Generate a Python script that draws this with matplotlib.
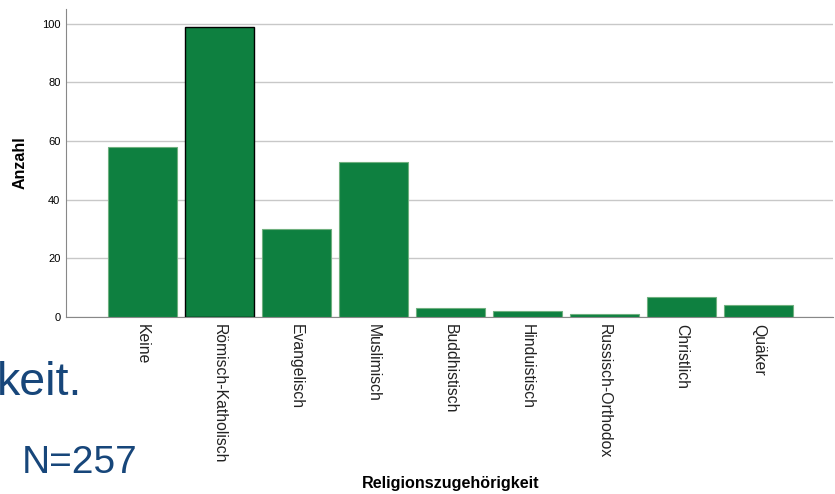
import matplotlib
matplotlib.use("Agg")
import matplotlib.pyplot as plt

plt.rcParams['font.family'] = ['Liberation Sans', 'DejaVu Sans']

categories = ["Keine", "Römisch-Katholisch", "Evangelisch", "Muslimisch",
              "Buddhistisch", "Hinduistisch", "Russisch-Orthodox", "Christlich", "Quäker"]
counts = [58, 99, 30, 53, 3, 2, 1, 7, 4]
y_ticks = [0, 20, 40, 60, 80, 100]

fig = plt.figure(figsize=(8.35, 4.94), dpi=100)
ax = fig.add_axes([0.079, 0.358, 0.919, 0.624])

x = list(range(len(categories)))
bars = ax.bar(x, counts, width=0.9, color='#0e8040', edgecolor='#6fb07f', linewidth=0.8, zorder=3)
# selected bar in SPSS gets a black outline
bars[1].set_edgecolor('black')
bars[1].set_linewidth(1.0)

ax.set_xlim(-0.99, 8.97)
ax.set_ylim(0, 105)
ax.set_yticks(y_ticks)
ax.yaxis.grid(True, color='#c8c8c8', linewidth=1.0, zorder=0)
ax.set_axisbelow(True)

ax.set_xticks(x)
ax.set_xticklabels(categories, rotation=270, fontsize=11.3, color='#222222')
ax.tick_params(axis='x', length=0, pad=5)
ax.tick_params(axis='y', length=0, labelsize=8, pad=4)

for s in ['top', 'right']:
    ax.spines[s].set_visible(False)
ax.spines['left'].set_color('#888888')
ax.spines['bottom'].set_color('#888888')

ax.set_ylabel("Anzahl", fontsize=11.5, fontweight='bold', labelpad=10)
fig.text(0.54, 0.012, "Religionszugehörigkeit", fontsize=11.6, fontweight='bold', ha='center', va='baseline')

# slide text overlapping the screenshot
fig.text(-0.004, 0.2, "keit.", fontsize=33.5, color='#17467a', ha='left', va='baseline')
fig.text(0.026, 0.0425, "N=257", fontsize=28, color='#17467a', ha='left', va='baseline')

fig.savefig("out.png", dpi=100)
